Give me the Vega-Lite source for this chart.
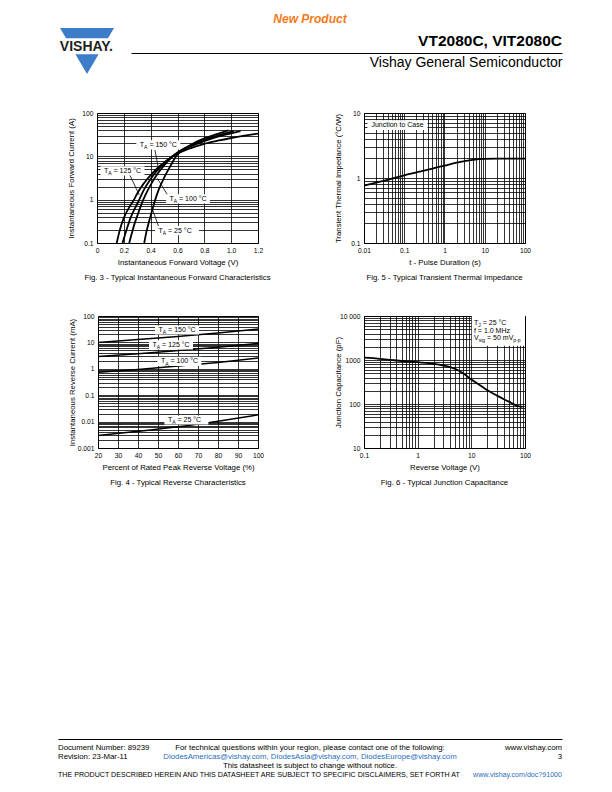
{
  "$schema": "https://vega.github.io/schema/vega-lite/v6.json",
  "padding": {"left": 58, "top": 12, "right": 50, "bottom": 12},
  "title": {"text": "New Product", "anchor": "middle", "fontSize": 12, "fontWeight": "bold", "fontStyle": "italic", "color": "#F47A20", "offset": 2},
  "spacing": 0,
  "datasets": {
    "fig3curves": [
      {"t":"150","x":0.147,"y":0.1},{"t":"150","x":0.17,"y":0.2},{"t":"150","x":0.2,"y":0.38},{"t":"150","x":0.25,"y":0.75},{"t":"150","x":0.276,"y":1.0},{"t":"150","x":0.3,"y":1.4},{"t":"150","x":0.35,"y":2.4},{"t":"150","x":0.4,"y":3.7},{"t":"150","x":0.45,"y":5.3},{"t":"150","x":0.5,"y":7.2},{"t":"150","x":0.56,"y":9.8},{"t":"150","x":0.6,"y":11.5},{"t":"150","x":0.7,"y":15.5},{"t":"150","x":0.8,"y":19.5},{"t":"150","x":0.9,"y":23},{"t":"150","x":1.0,"y":26.5},{"t":"150","x":1.1,"y":30},{"t":"150","x":1.2,"y":33.5},
      {"t":"125","x":0.19,"y":0.1},{"t":"125","x":0.22,"y":0.2},{"t":"125","x":0.25,"y":0.38},{"t":"125","x":0.29,"y":0.7},{"t":"125","x":0.315,"y":1.0},{"t":"125","x":0.35,"y":1.7},{"t":"125","x":0.4,"y":3.0},{"t":"125","x":0.45,"y":4.8},{"t":"125","x":0.5,"y":6.9},{"t":"125","x":0.56,"y":9.9},{"t":"125","x":0.6,"y":12},{"t":"125","x":0.7,"y":17},{"t":"125","x":0.8,"y":22.5},{"t":"125","x":0.9,"y":28.5},{"t":"125","x":1.0,"y":34},{"t":"125","x":1.07,"y":38},
      {"t":"100","x":0.24,"y":0.1},{"t":"100","x":0.26,"y":0.17},{"t":"100","x":0.28,"y":0.28},{"t":"100","x":0.3,"y":0.42},{"t":"100","x":0.345,"y":1.0},{"t":"100","x":0.4,"y":2.2},{"t":"100","x":0.45,"y":3.9},{"t":"100","x":0.5,"y":6.2},{"t":"100","x":0.56,"y":9.8},{"t":"100","x":0.6,"y":12.3},{"t":"100","x":0.7,"y":18},{"t":"100","x":0.8,"y":24},{"t":"100","x":0.9,"y":30},{"t":"100","x":1.02,"y":38},
      {"t":"25","x":0.352,"y":0.1},{"t":"25","x":0.37,"y":0.19},{"t":"25","x":0.39,"y":0.33},{"t":"25","x":0.41,"y":0.55},{"t":"25","x":0.432,"y":0.95},{"t":"25","x":0.46,"y":1.7},{"t":"25","x":0.5,"y":3.2},{"t":"25","x":0.55,"y":6.2},{"t":"25","x":0.58,"y":9},{"t":"25","x":0.6,"y":11},{"t":"25","x":0.7,"y":18.5},{"t":"25","x":0.8,"y":26},{"t":"25","x":0.9,"y":33},{"t":"25","x":0.98,"y":40}
    ],
    "fig3labels": [
      {"x":0.457,"y":18.3,"t":"T","s":"A","r":"= 150 °C"},
      {"x":0.19,"y":4.59,"t":"T","s":"A","r":"= 125 °C"},
      {"x":0.678,"y":1.04,"t":"T","s":"A","r":"= 100 °C"},
      {"x":0.596,"y":0.192,"t":"T","s":"A","r":"= 25 °C"}
    ],
    "fig3leaders": [
      {"x":0.432,"y":14.0,"x2":0.462,"y2":4.42},
      {"x":0.241,"y":3.91,"x2":0.315,"y2":1.28},
      {"x":0.531,"y":1.215,"x2":0.449,"y2":3.11},
      {"x":0.464,"y":0.218,"x2":0.415,"y2":0.578}
    ],
    "fig5curve": [
      {"x":0.01,"y":0.76},{"x":0.02,"y":0.85},{"x":0.05,"y":0.98},{"x":0.1,"y":1.1},{"x":0.2,"y":1.22},{"x":0.5,"y":1.4},{"x":1,"y":1.55},{"x":2,"y":1.72},{"x":5,"y":1.9},{"x":7,"y":1.95},{"x":10,"y":1.97},{"x":20,"y":1.98},{"x":50,"y":1.98},{"x":100,"y":1.98}
    ],
    "fig5label": [{"x":0.068,"y":6.5,"text":"Junction to Case"}],
    "fig4curves": [
      {"t":"150","x":20,"y":10},{"t":"150","x":40,"y":12.8},{"t":"150","x":60,"y":16.8},{"t":"150","x":80,"y":22.5},{"t":"150","x":100,"y":32},
      {"t":"125","x":20,"y":2.9},{"t":"125","x":40,"y":3.7},{"t":"125","x":60,"y":4.9},{"t":"125","x":80,"y":6.6},{"t":"125","x":100,"y":9.2},
      {"t":"100","x":20,"y":0.74},{"t":"100","x":40,"y":0.95},{"t":"100","x":60,"y":1.27},{"t":"100","x":80,"y":1.75},{"t":"100","x":100,"y":2.56},
      {"t":"25","x":20,"y":0.003},{"t":"25","x":40,"y":0.0043},{"t":"25","x":60,"y":0.0064},{"t":"25","x":80,"y":0.0104},{"t":"25","x":100,"y":0.018}
    ],
    "fig4labels": [
      {"x":59.5,"y":29.5,"t":"T","s":"A","r":"= 150 °C"},
      {"x":56.5,"y":8.0,"t":"T","s":"A","r":"= 125 °C"},
      {"x":60.7,"y":1.92,"t":"T","s":"A","r":"= 100 °C"},
      {"x":64.2,"y":0.0115,"t":"T","s":"A","r":"= 25 °C"}
    ],
    "fig6curve": [
      {"x":0.1,"y":1130},{"x":0.15,"y":1100},{"x":0.2,"y":1060},{"x":0.3,"y":1010},{"x":0.5,"y":950},{"x":1,"y":890},{"x":2,"y":820},{"x":3,"y":750},{"x":5,"y":630},{"x":7,"y":500},{"x":10,"y":360},{"x":15,"y":260},{"x":20,"y":205},{"x":30,"y":155},{"x":50,"y":113},{"x":70,"y":92},{"x":90,"y":86}
    ],
    "fig6box": [{"x":10.2,"x2":100,"y":2113,"y2":10000}],
    "fig6legend": [
      {"part":"main","x":11.2,"y":6930,"t":"T"},
      {"part":"main","x":11.2,"y":4630,"t":"f = 1.0 MHz"},
      {"part":"main","x":11.2,"y":3110,"t":"V"},
      {"part":"subJ","x":11.2,"y":6930,"t":"J"},
      {"part":"restJ","x":11.2,"y":6930,"t":"= 25 °C"},
      {"part":"subV","x":11.2,"y":3110,"t":"sig"},
      {"part":"restV","x":11.2,"y":3110,"t":"= 50 mV"},
      {"part":"subPP","x":11.2,"y":3110,"t":"p-p"}
    ],
    "footer": [
      {"line":1,"pos":"left","kind":"text","text":"Document Number: 89239"},
      {"line":1,"pos":"center","kind":"text","text":"For technical questions within your region, please contact one of the following:"},
      {"line":1,"pos":"right","kind":"text","text":"www.vishay.com"},
      {"line":2,"pos":"left","kind":"text","text":"Revision: 23-Mar-11"},
      {"line":2,"pos":"center","kind":"link","text":"DiodesAmericas@vishay.com, DiodesAsia@vishay.com, DiodesEurope@vishay.com"},
      {"line":2,"pos":"right","kind":"text","text":"3"},
      {"line":3,"pos":"center","kind":"text","text":"This datasheet is subject to change without notice."},
      {"line":4,"pos":"left","kind":"text","text":"THE PRODUCT DESCRIBED HEREIN AND THIS DATASHEET ARE SUBJECT TO SPECIFIC DISCLAIMERS, SET FORTH AT"},
      {"line":4,"pos":"right","kind":"link","text":"www.vishay.com/doc?91000"}
    ]
  },
  "vconcat": [
    {
      "hconcat": [
        {
          "width": 58, "height": 46,
          "data": {"values": [{"name": "VISHAY."}]},
          "layer": [
            {"mark": {"type": "point", "shape": "M-1,-0.852L1,-0.852L0,0.852Z", "size": 2916, "filled": true, "color": "#3D7CC9", "opacity": 1, "strokeWidth": 0},
             "encoding": {"x": {"datum": 0.5, "type": "quantitative", "scale": {"domain": [0, 1]}, "axis": null}, "y": {"datum": 0.5, "type": "quantitative", "scale": {"domain": [0, 1]}, "axis": null}}},
            {"mark": {"type": "point", "shape": "M-1,-0.276L1,-0.276L1,0.276L-1,0.276Z", "size": 3364, "filled": true, "color": "white", "opacity": 1, "strokeWidth": 0},
             "encoding": {"x": {"datum": 0.5, "type": "quantitative", "scale": {"domain": [0, 1]}, "axis": null}, "y": {"datum": 0.604, "type": "quantitative", "scale": {"domain": [0, 1]}, "axis": null}}},
            {"mark": {"type": "text", "align": "center", "baseline": "middle", "fontSize": 14, "fontWeight": "bold", "color": "#231F20"},
             "encoding": {"text": {"field": "name"}, "x": {"datum": 0.49, "type": "quantitative", "scale": {"domain": [0, 1]}, "axis": null}, "y": {"datum": 0.587, "type": "quantitative", "scale": {"domain": [0, 1]}, "axis": null}}}
          ]
        },
        {"width": 15, "height": 1, "data": {"values": []}, "mark": "point"},
        {
          "width": 431, "height": 25,
          "data": {"values": [{"label": "VT2080C, VIT2080C"}]},
          "mark": {"type": "text", "align": "right", "baseline": "alphabetic", "fontSize": 15.5, "fontWeight": "bold", "dy": -7.5, "color": "black"},
          "encoding": {
            "text": {"field": "label"},
            "x": {"datum": 1, "type": "quantitative", "scale": {"domain": [0, 1]}, "axis": {"orient": "bottom", "domain": true, "domainColor": "black", "domainWidth": 1, "labels": false, "ticks": false, "grid": false, "title": "Vishay General Semiconductor", "titleAnchor": "end", "titleFontSize": 14, "titleFontWeight": "normal", "titlePadding": 2}},
            "y": {"datum": 0, "type": "quantitative", "scale": {"domain": [0, 1]}, "axis": null}
          }
        }
      ],
      "spacing": 0, "bounds": "flush"
    },
    {"width": 1, "height": 33.5, "data": {"values": []}, "mark": "point"},
    {
      "hconcat": [
        {"width": 39, "height": 1, "data": {"values": []}, "mark": "point"},
        {
          "width": 161, "height": 130,
          "view": {"stroke": "black", "strokeWidth": 1},
          "title": {"text": "Fig. 3 - Typical Instantaneous Forward Characteristics", "orient": "bottom", "anchor": "middle", "frame": "group", "offset": 8, "fontSize": 7.8, "fontWeight": "normal"},
          "encoding": {
            "x": {"field": "x", "type": "quantitative", "scale": {"domain": [0, 1.2], "nice": false, "zero": false},
                  "axis": {"title": "Instantaneous Forward Voltage (V)", "values": [0, 0.2, 0.4, 0.6, 0.8, 1, 1.2], "labelExpr": "datum.value == 0 ? '0' : format(datum.value, '.1f')", "grid": true, "labelFlush": false}},
            "y": {"field": "y", "type": "quantitative", "scale": {"type": "log", "domain": [0.1, 100], "nice": false},
                  "axis": {"title": "Instantaneous Forward Current (A)", "values": [0.1,0.2,0.3,0.4,0.5,0.6,0.7,0.8,0.9,1,2,3,4,5,6,7,8,9,10,20,30,40,50,60,70,80,90,100], "labelExpr": "datum.value == 0.1 ? '0.1' : datum.value == 1 ? '1' : datum.value == 10 ? '10' : datum.value == 100 ? '100' : ''", "grid": true}}
          },
          "layer": [
            {"data": {"name": "fig3curves"}, "mark": {"type": "line", "color": "black", "strokeWidth": 1.8, "interpolate": "monotone", "clip": true}, "encoding": {"detail": {"field": "t", "type": "nominal"}}},
            {"data": {"name": "fig3leaders"}, "mark": {"type": "rule", "color": "black", "strokeWidth": 0.8}, "encoding": {"x2": {"field": "x2"}, "y2": {"field": "y2"}}},
            {"data": {"name": "fig3labels"}, "mark": {"type": "point", "shape": "M-1,-0.21L1,-0.21L1,0.21L-1,0.21Z", "size": 1936, "filled": true, "color": "white", "opacity": 1, "strokeWidth": 0}},
            {"data": {"name": "fig3labels"}, "mark": {"type": "text", "align": "left", "baseline": "middle", "fontSize": 7, "dx": -18.5, "color": "black"}, "encoding": {"text": {"field": "t"}}},
            {"data": {"name": "fig3labels"}, "mark": {"type": "text", "align": "left", "baseline": "middle", "fontSize": 5, "dx": -14.2, "dy": 2.2, "color": "black"}, "encoding": {"text": {"field": "s"}}},
            {"data": {"name": "fig3labels"}, "mark": {"type": "text", "align": "left", "baseline": "middle", "fontSize": 7, "dx": -8.9, "color": "black"}, "encoding": {"text": {"field": "r"}}}
          ]
        },
        {"width": 106, "height": 1, "data": {"values": []}, "mark": "point"},
        {
          "width": 161, "height": 130,
          "view": {"stroke": "black", "strokeWidth": 1},
          "title": {"text": "Fig. 5 - Typical Transient Thermal Impedance", "orient": "bottom", "anchor": "middle", "frame": "group", "offset": 8, "fontSize": 7.8, "fontWeight": "normal"},
          "encoding": {
            "x": {"field": "x", "type": "quantitative", "scale": {"type": "log", "domain": [0.01, 100], "nice": false},
                  "axis": {"title": "t - Pulse Duration (s)", "values": [0.01,0.02,0.03,0.04,0.05,0.06,0.07,0.08,0.09,0.1,0.2,0.3,0.4,0.5,0.6,0.7,0.8,0.9,1,2,3,4,5,6,7,8,9,10,20,30,40,50,60,70,80,90,100], "labelExpr": "datum.value == 0.01 ? '0.01' : datum.value == 0.1 ? '0.1' : datum.value == 1 ? '1' : datum.value == 10 ? '10' : datum.value == 100 ? '100' : ''", "grid": true, "labelFlush": false}},
            "y": {"field": "y", "type": "quantitative", "scale": {"type": "log", "domain": [0.1, 10], "nice": false},
                  "axis": {"title": "Transient Thermal Impedance (°C/W)", "values": [0.1,0.2,0.3,0.4,0.5,0.6,0.7,0.8,0.9,1,2,3,4,5,6,7,8,9,10], "labelExpr": "datum.value == 0.1 ? '0.1' : datum.value == 1 ? '1' : datum.value == 10 ? '10' : ''", "grid": true}}
          },
          "layer": [
            {"data": {"name": "fig5curve"}, "mark": {"type": "line", "color": "black", "strokeWidth": 1.8, "interpolate": "monotone", "clip": true}},
            {"data": {"name": "fig5label"}, "mark": {"type": "point", "shape": "M-1,-0.16L1,-0.16L1,0.16L-1,0.16Z", "size": 3600, "filled": true, "color": "white", "opacity": 1, "strokeWidth": 0}},
            {"data": {"name": "fig5label"}, "mark": {"type": "text", "align": "center", "baseline": "middle", "fontSize": 7, "color": "black"}, "encoding": {"text": {"field": "text"}}}
          ]
        }
      ],
      "spacing": 0, "bounds": "flush"
    },
    {"width": 1, "height": 28.75, "data": {"values": []}, "mark": "point"},
    {
      "hconcat": [
        {"width": 40, "height": 1, "data": {"values": []}, "mark": "point"},
        {
          "width": 160, "height": 132,
          "view": {"stroke": "black", "strokeWidth": 1},
          "title": {"text": "Fig. 4 - Typical Reverse Characteristics", "orient": "bottom", "anchor": "middle", "frame": "group", "offset": 8, "fontSize": 7.8, "fontWeight": "normal"},
          "encoding": {
            "x": {"field": "x", "type": "quantitative", "scale": {"domain": [20, 100], "nice": false, "zero": false},
                  "axis": {"title": "Percent of Rated Peak Reverse Voltage (%)", "values": [20,30,40,50,60,70,80,90,100], "grid": true, "labelFlush": false}},
            "y": {"field": "y", "type": "quantitative", "scale": {"type": "log", "domain": [0.001, 100], "nice": false},
                  "axis": {"title": "Instantaneous  Reverse Current (mA)", "values": [0.001,0.002,0.003,0.004,0.005,0.006,0.007,0.008,0.009,0.01,0.02,0.03,0.04,0.05,0.06,0.07,0.08,0.09,0.1,0.2,0.3,0.4,0.5,0.6,0.7,0.8,0.9,1,2,3,4,5,6,7,8,9,10,20,30,40,50,60,70,80,90,100], "labelExpr": "datum.value == 0.001 ? '0.001' : datum.value == 0.01 ? '0.01' : datum.value == 0.1 ? '0.1' : datum.value == 1 ? '1' : datum.value == 10 ? '10' : datum.value == 100 ? '100' : ''", "grid": true}}
          },
          "layer": [
            {"data": {"name": "fig4curves"}, "mark": {"type": "line", "color": "black", "strokeWidth": 1.5, "interpolate": "monotone", "clip": true}, "encoding": {"detail": {"field": "t", "type": "nominal"}}},
            {"data": {"name": "fig4labels"}, "mark": {"type": "point", "shape": "M-1,-0.21L1,-0.21L1,0.21L-1,0.21Z", "size": 1936, "filled": true, "color": "white", "opacity": 1, "strokeWidth": 0}},
            {"data": {"name": "fig4labels"}, "mark": {"type": "text", "align": "left", "baseline": "middle", "fontSize": 7, "dx": -18.5, "color": "black"}, "encoding": {"text": {"field": "t"}}},
            {"data": {"name": "fig4labels"}, "mark": {"type": "text", "align": "left", "baseline": "middle", "fontSize": 5, "dx": -14.2, "dy": 2.2, "color": "black"}, "encoding": {"text": {"field": "s"}}},
            {"data": {"name": "fig4labels"}, "mark": {"type": "text", "align": "left", "baseline": "middle", "fontSize": 7, "dx": -8.9, "color": "black"}, "encoding": {"text": {"field": "r"}}}
          ]
        },
        {"width": 106, "height": 1, "data": {"values": []}, "mark": "point"},
        {
          "width": 161, "height": 132,
          "view": {"stroke": "black", "strokeWidth": 1},
          "title": {"text": "Fig. 6 - Typical Junction Capacitance", "orient": "bottom", "anchor": "middle", "frame": "group", "offset": 8, "fontSize": 7.8, "fontWeight": "normal"},
          "encoding": {
            "x": {"field": "x", "type": "quantitative", "scale": {"type": "log", "domain": [0.1, 100], "nice": false},
                  "axis": {"title": "Reverse Voltage (V)", "values": [0.1,0.2,0.3,0.4,0.5,0.6,0.7,0.8,0.9,1,2,3,4,5,6,7,8,9,10,20,30,40,50,60,70,80,90,100], "labelExpr": "datum.value == 0.1 ? '0.1' : datum.value == 1 ? '1' : datum.value == 10 ? '10' : datum.value == 100 ? '100' : ''", "grid": true, "labelFlush": false}},
            "y": {"field": "y", "type": "quantitative", "scale": {"type": "log", "domain": [10, 10000], "nice": false},
                  "axis": {"title": "Junction Capacitance (pF)", "values": [10,20,30,40,50,60,70,80,90,100,200,300,400,500,600,700,800,900,1000,2000,3000,4000,5000,6000,7000,8000,9000,10000], "labelExpr": "datum.value == 10 ? '10' : datum.value == 100 ? '100' : datum.value == 1000 ? '1000' : datum.value == 10000 ? '10 000' : ''", "grid": true}}
          },
          "layer": [
            {"data": {"name": "fig6curve"}, "mark": {"type": "line", "color": "black", "strokeWidth": 1.8, "interpolate": "monotone", "clip": true}},
            {"data": {"name": "fig6box"}, "mark": {"type": "rect", "color": "white", "opacity": 1}, "encoding": {"x2": {"field": "x2"}, "y2": {"field": "y2"}}},
            {"data": {"name": "fig6legend"}, "transform": [{"filter": "datum.part == 'main'"}], "mark": {"type": "text", "align": "left", "baseline": "middle", "fontSize": 7, "color": "black"}, "encoding": {"text": {"field": "t"}}},
            {"data": {"name": "fig6legend"}, "transform": [{"filter": "datum.part == 'subJ'"}], "mark": {"type": "text", "align": "left", "baseline": "middle", "fontSize": 5, "dx": 4.3, "dy": 2, "color": "black"}, "encoding": {"text": {"field": "t"}}},
            {"data": {"name": "fig6legend"}, "transform": [{"filter": "datum.part == 'restJ'"}], "mark": {"type": "text", "align": "left", "baseline": "middle", "fontSize": 7, "dx": 8.8, "color": "black"}, "encoding": {"text": {"field": "t"}}},
            {"data": {"name": "fig6legend"}, "transform": [{"filter": "datum.part == 'subV'"}], "mark": {"type": "text", "align": "left", "baseline": "middle", "fontSize": 5, "dx": 4.7, "dy": 2, "color": "black"}, "encoding": {"text": {"field": "t"}}},
            {"data": {"name": "fig6legend"}, "transform": [{"filter": "datum.part == 'restV'"}], "mark": {"type": "text", "align": "left", "baseline": "middle", "fontSize": 7, "dx": 13.1, "color": "black"}, "encoding": {"text": {"field": "t"}}},
            {"data": {"name": "fig6legend"}, "transform": [{"filter": "datum.part == 'subPP'"}], "mark": {"type": "text", "align": "left", "baseline": "middle", "fontSize": 5, "dx": 39.4, "dy": 2, "color": "black"}, "encoding": {"text": {"field": "t"}}}
          ]
        }
      ],
      "spacing": 0, "bounds": "flush"
    },
    {"width": 1, "height": 250.6, "data": {"values": []}, "mark": "point"},
    {
      "width": 504, "height": 36,
      "data": {"name": "footer"},
      "encoding": {
        "y": {"field": "line", "type": "quantitative", "scale": {"domain": [0, 4], "reverse": true}, "axis": null},
        "color": {"field": "kind", "type": "nominal", "scale": {"domain": ["text", "link"], "range": ["black", "#2A6EBB"]}, "legend": null},
        "text": {"field": "text"}
      },
      "layer": [
        {"transform": [{"filter": "datum.pos == 'left' && datum.line < 4"}], "mark": {"type": "text", "align": "left", "baseline": "middle", "fontSize": 7.8},
         "encoding": {"x": {"datum": 0, "type": "quantitative", "scale": {"domain": [0, 1]}, "axis": {"orient": "top", "domain": true, "domainColor": "black", "domainWidth": 1, "labels": false, "ticks": false, "grid": false, "title": null}}}},
        {"transform": [{"filter": "datum.pos == 'center'"}], "mark": {"type": "text", "align": "center", "baseline": "middle", "fontSize": 7.8},
         "encoding": {"x": {"datum": 0.5, "type": "quantitative", "scale": {"domain": [0, 1]}, "axis": {"orient": "top", "domain": true, "domainColor": "black", "domainWidth": 1, "labels": false, "ticks": false, "grid": false, "title": null}}}},
        {"transform": [{"filter": "datum.pos == 'right' && datum.line < 4"}], "mark": {"type": "text", "align": "right", "baseline": "middle", "fontSize": 7.8},
         "encoding": {"x": {"datum": 1, "type": "quantitative", "scale": {"domain": [0, 1]}, "axis": {"orient": "top", "domain": true, "domainColor": "black", "domainWidth": 1, "labels": false, "ticks": false, "grid": false, "title": null}}}},
        {"transform": [{"filter": "datum.pos == 'left' && datum.line == 4"}], "mark": {"type": "text", "align": "left", "baseline": "middle", "fontSize": 7.1},
         "encoding": {"x": {"datum": 0, "type": "quantitative", "scale": {"domain": [0, 1]}, "axis": {"orient": "top", "domain": true, "domainColor": "black", "domainWidth": 1, "labels": false, "ticks": false, "grid": false, "title": null}}}},
        {"transform": [{"filter": "datum.pos == 'right' && datum.line == 4"}], "mark": {"type": "text", "align": "right", "baseline": "middle", "fontSize": 7.1},
         "encoding": {"x": {"datum": 1, "type": "quantitative", "scale": {"domain": [0, 1]}, "axis": {"orient": "top", "domain": true, "domainColor": "black", "domainWidth": 1, "labels": false, "ticks": false, "grid": false, "title": null}}}}
      ]
    }
  ],
  "config": {
    "font": "Liberation Sans",
    "view": {"stroke": null},
    "axis": {"labelFontSize": 6.7, "titleFontSize": 7.8, "titleFontWeight": "normal", "labelColor": "black", "titleColor": "black", "ticks": false, "tickSize": 0, "domain": false, "gridColor": "black", "gridWidth": 0.8, "gridOpacity": 1, "labelOverlap": false, "labelFlush": false, "labelBound": false, "labelFont": "Liberation Sans", "titleFont": "Liberation Sans"},
    "axisX": {"labelPadding": 4.5, "titlePadding": 4},
    "axisY": {"labelPadding": 4, "titlePadding": 6, "minExtent": 16, "maxExtent": 16},
    "title": {"font": "Liberation Sans", "color": "black"},
    "text": {"font": "Liberation Sans"}
  }
}
